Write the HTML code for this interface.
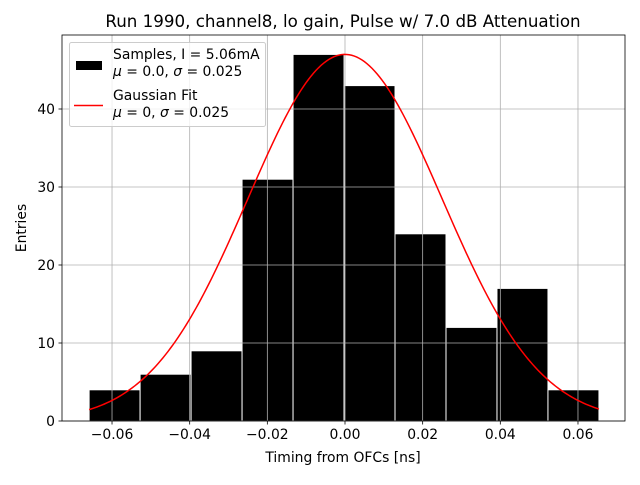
<!DOCTYPE html>
<html><head><meta charset="utf-8"><style>
body{margin:0;background:#fff;width:640px;height:480px;overflow:hidden}
text{font-family:"DejaVu Sans","Liberation Sans",sans-serif;fill:#000}
</style></head><body>
<svg id="c" width="640" height="480" xmlns="http://www.w3.org/2000/svg">
<rect width="640" height="480" fill="#fff"/>
<g id="bars"></g><g id="grid"></g><g id="curve"></g><g id="axes"></g>
</svg>
<script>
const binStart = -0.0659;
const binWidth = 0.01313;
const counts = [4, 6, 9, 31, 47, 43, 24, 12, 17, 4];
const fitAmp = 47, fitMu = 0, fitSigma = 0.025;
const xTicks = [-0.06, -0.04, -0.02, 0, 0.02, 0.04, 0.06];
const xTickLabels = ["−0.06", "−0.04", "−0.02", "0.00", "0.02", "0.04", "0.06"];
const yTicks = [0, 10, 20, 30, 40];

const L = 62, R = 625, T = 35, B = 421;
const X = v => 345 + v * 3883;
const Y = v => B - v * 7.8;
const NS = "http://www.w3.org/2000/svg";
function mk(tag, attrs, parent, txt) {
  const e = document.createElementNS(NS, tag);
  for (const k in attrs) e.setAttribute(k, attrs[k]);
  if (txt !== undefined) e.textContent = txt;
  document.getElementById(parent).appendChild(e);
  return e;
}
counts.forEach((c, i) => {
  const x0 = X(binStart + i * binWidth), x1 = X(binStart + (i + 1) * binWidth);
  const r = mk('rect', {x: x0, y: Y(c), width: x1 - x0, height: Y(0) - Y(c), fill: '#000', stroke: '#fff', 'stroke-width': 1}, 'bars');
  
  
});
xTicks.forEach(t => {
  const g = mk('line', {x1: X(t), x2: X(t), y1: T, y2: B, stroke: '#b0b0b0', 'stroke-width': 0.8}, 'grid');
  
  
});
yTicks.forEach(t => {
  const g = mk('line', {x1: L, x2: R, y1: Y(t), y2: Y(t), stroke: '#b0b0b0', 'stroke-width': 0.8}, 'grid');
  
  
});
let pts = [];
const xa = binStart, xb = binStart + counts.length * binWidth;
for (let i = 0; i <= 200; i++) {
  const x = xa + (xb - xa) * i / 200;
  const y = fitAmp * Math.exp(-0.5 * ((x - fitMu) / fitSigma) ** 2);
  pts.push(X(x).toFixed(2) + ',' + Y(y).toFixed(2));
}
const pl = mk('polyline', {points: pts.join(' '), fill: 'none', stroke: '#ff0000', 'stroke-width': 1.5}, 'curve');


const fr = mk('rect', {x: L, y: T, width: R - L, height: B - T, fill: 'none', stroke: '#000', 'stroke-width': 0.8}, 'axes');


xTicks.forEach((t, i) => {
  mk('line', {x1: X(t), x2: X(t), y1: B, y2: B + 3.5, stroke: '#000', 'stroke-width': 0.8}, 'axes');
  const tx = mk('text', {x: X(t), y: B + 18, 'font-size': 13.9, 'text-anchor': 'middle'}, 'axes', xTickLabels[i]);
  
  
});
yTicks.forEach(t => {
  mk('line', {x1: L - 3.5, x2: L, y1: Y(t), y2: Y(t), stroke: '#000', 'stroke-width': 0.8}, 'axes');
  const tx = mk('text', {x: L - 7, y: Y(t) + 5, 'font-size': 13.9, 'text-anchor': 'end'}, 'axes', String(t));
  
  
});
</script>
<svg width="640" height="480" style="position:absolute;left:0;top:0" xmlns="http://www.w3.org/2000/svg">
<text x="343" y="27" font-size="16.7" text-anchor="middle">Run 1990, channel8, lo gain, Pulse w/ 7.0 dB Attenuation</text>
<text x="343" y="462" font-size="13.9" text-anchor="middle">Timing from OFCs [ns]</text>
<text x="26" y="228" font-size="13.9" text-anchor="middle" transform="rotate(-90 26 228)">Entries</text>
<g>
<rect x="69.5" y="42.5" width="196" height="84" rx="2" fill="#fff" fill-opacity="0.8" stroke="#ccc"/>
<rect x="76" y="61" width="26" height="9" fill="#000"/>
<text x="113" y="59" font-size="13.9">Samples, I = 5.06mA</text>
<text x="113" y="76" font-size="13.9"><tspan font-style="italic">μ</tspan> = 0.0, <tspan font-style="italic">σ</tspan> = 0.025</text>
<line x1="74" x2="103" y1="105.5" y2="105.5" stroke="#ff0000" stroke-width="1.5"/>
<text x="113" y="100" font-size="13.9">Gaussian Fit</text>
<text x="113" y="117" font-size="13.9"><tspan font-style="italic">μ</tspan> = 0, <tspan font-style="italic">σ</tspan> = 0.025</text>
</g>
</svg>
</body></html>
